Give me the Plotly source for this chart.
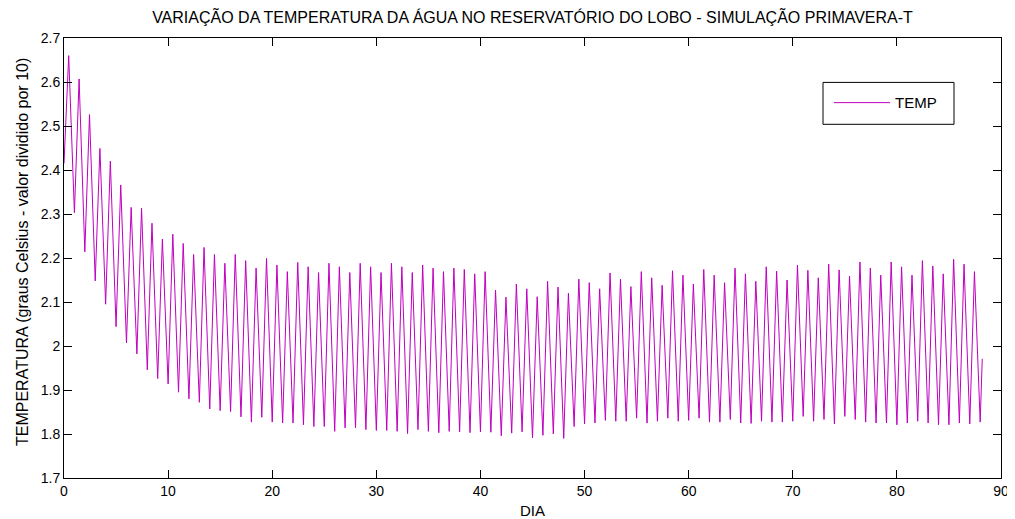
import plotly.graph_objects as go

# ---- data ----
start_day = 0.0
start_temp = 2.415
end_day = 88.2
end_temp = 1.971

# daily maximum (one per day, day 0 .. 87, reached around mid-day)
peak_temp = [
    2.660, 2.607, 2.526, 2.449, 2.420, 2.366, 2.315, 2.313, 2.279, 2.243,
    2.254, 2.233, 2.208, 2.224, 2.208, 2.188, 2.208, 2.194, 2.177, 2.199,
    2.184, 2.169, 2.190, 2.180, 2.167, 2.188, 2.180, 2.167, 2.188, 2.180,
    2.167, 2.188, 2.180, 2.167, 2.184, 2.177, 2.169, 2.177, 2.174, 2.164,
    2.169, 2.127, 2.111, 2.141, 2.130, 2.112, 2.147, 2.134, 2.120, 2.152,
    2.144, 2.130, 2.166, 2.152, 2.135, 2.169, 2.155, 2.138, 2.171, 2.161,
    2.141, 2.174, 2.161, 2.144, 2.177, 2.164, 2.147, 2.180, 2.170, 2.150,
    2.184, 2.172, 2.155, 2.186, 2.173, 2.159, 2.191, 2.177, 2.161, 2.191,
    2.180, 2.161, 2.194, 2.182, 2.164, 2.197, 2.186, 2.169,
]

# daily minimum (day 1 .. 88, around midnight)
trough_temp = [
    2.303, 2.214, 2.148, 2.095, 2.044, 2.007, 1.982, 1.946, 1.926, 1.914,
    1.895, 1.880, 1.872, 1.857, 1.853, 1.851, 1.839, 1.827, 1.838, 1.827,
    1.825, 1.825, 1.821, 1.817, 1.817, 1.806, 1.814, 1.814, 1.810, 1.808,
    1.808, 1.806, 1.801, 1.810, 1.806, 1.803, 1.806, 1.805, 1.803, 1.805,
    1.804, 1.796, 1.802, 1.805, 1.791, 1.797, 1.800, 1.790, 1.817, 1.823,
    1.825, 1.831, 1.829, 1.829, 1.836, 1.825, 1.829, 1.836, 1.829, 1.831,
    1.836, 1.827, 1.827, 1.833, 1.825, 1.824, 1.829, 1.827, 1.827, 1.829,
    1.840, 1.829, 1.833, 1.823, 1.840, 1.833, 1.827, 1.825, 1.825, 1.821,
    1.825, 1.829, 1.825, 1.821, 1.821, 1.825, 1.823, 1.827,
]

x_ticks = [0, 10, 20, 30, 40, 50, 60, 70, 80, 90]
y_ticks = [1.7, 1.8, 1.9, 2.0, 2.1, 2.2, 2.3, 2.4, 2.5, 2.6, 2.7]
y_tick_labels = ["1.7", "1.8", "1.9", "2", "2.1", "2.2", "2.3", "2.4", "2.5", "2.6", "2.7"]

title_text = "VARIAÇÃO DA TEMPERATURA DA ÁGUA NO RESERVATÓRIO DO LOBO - SIMULAÇÃO PRIMAVERA-T"
x_title = "DIA"
y_title = "TEMPERATURA (graus Celsius - valor dividido por 10)"
series_name = "TEMP"

# ---- build the time series: start, then max / min for each day ----
days = [start_day]
temps = [start_temp]
for d in range(len(peak_temp)):
    days.append(d + 0.45)
    temps.append(peak_temp[d])
    days.append(d + 1.0)
    temps.append(trough_temp[d])
days.append(end_day)
temps.append(end_temp)

FONT = "Liberation Sans, Arial, Helvetica, sans-serif"
LINE_COLOR = "rgb(191,0,191)"

# the page body adds an 8 px offset; geometry below is in screen pixels
OFF = 8
SW, SH = 1015, 519
W, H = SW - OFF, SH - OFF
P_L, P_R, P_T, P_B = 64, 1001, 37.5, 478.5   # plot area in screen px
ml = P_L - OFF
mt = P_T - OFF
mr = W - (P_R - OFF)
mb = H - (P_B - OFF)
pw = P_R - P_L
ph = P_B - P_T


def px(sx):
    return (sx - P_L) / pw


def py(sy):
    return (P_B - sy) / ph


fig = go.Figure()
fig.add_trace(go.Scatter(
    x=days, y=temps, mode="lines", name=series_name,
    line=dict(color=LINE_COLOR, width=1),
))

axis_common = dict(
    showgrid=False, zeroline=False, showline=True, linecolor="black",
    linewidth=1, mirror="allticks", ticks="inside", ticklen=8,
    tickcolor="black", tickwidth=1,
    tickfont=dict(family=FONT, size=14, color="black"),
)

fig.update_layout(
    width=W, height=H,
    margin=dict(l=ml, r=mr, t=mt, b=mb, pad=0, autoexpand=False),
    paper_bgcolor="white", plot_bgcolor="white",
    font=dict(family=FONT, size=14, color="black"),
    title=dict(text=title_text, x=((P_L + P_R) / 2 - OFF) / W, xanchor="center",
               y=1 - (17 - OFF) / H, yanchor="middle", yref="container",
               font=dict(family=FONT, size=16, color="black")),
    xaxis=dict(range=[0, 90], tickvals=x_ticks, automargin=False, **axis_common),
    yaxis=dict(range=[1.7, 2.7], tickvals=y_ticks, ticktext=y_tick_labels,
               automargin=False, **axis_common),
    showlegend=True,
    legend=dict(
        x=px(829), y=py(86),
        xanchor="left", yanchor="top",
        bgcolor="rgba(0,0,0,0)", borderwidth=0,
        itemwidth=56,
        font=dict(family=FONT, size=15, color="black"),
    ),
    shapes=[dict(
        type="rect", xref="paper", yref="paper",
        x0=px(823), x1=px(954), y0=py(124), y1=py(82),
        line=dict(color="black", width=1), fillcolor="rgba(0,0,0,0)",
        layer="above",
    )],
    annotations=[
        dict(text=x_title, xref="paper", yref="paper",
             x=px(532), y=py(511),
             xanchor="center", yanchor="middle", showarrow=False,
             font=dict(family=FONT, size=15, color="black")),
        dict(text=y_title, xref="paper", yref="paper",
             x=px(22), y=py(252),
             xanchor="center", yanchor="middle", showarrow=False,
             textangle=-90,
             font=dict(family=FONT, size=16, color="black")),
    ],
)

fig.write_html("out.html")
